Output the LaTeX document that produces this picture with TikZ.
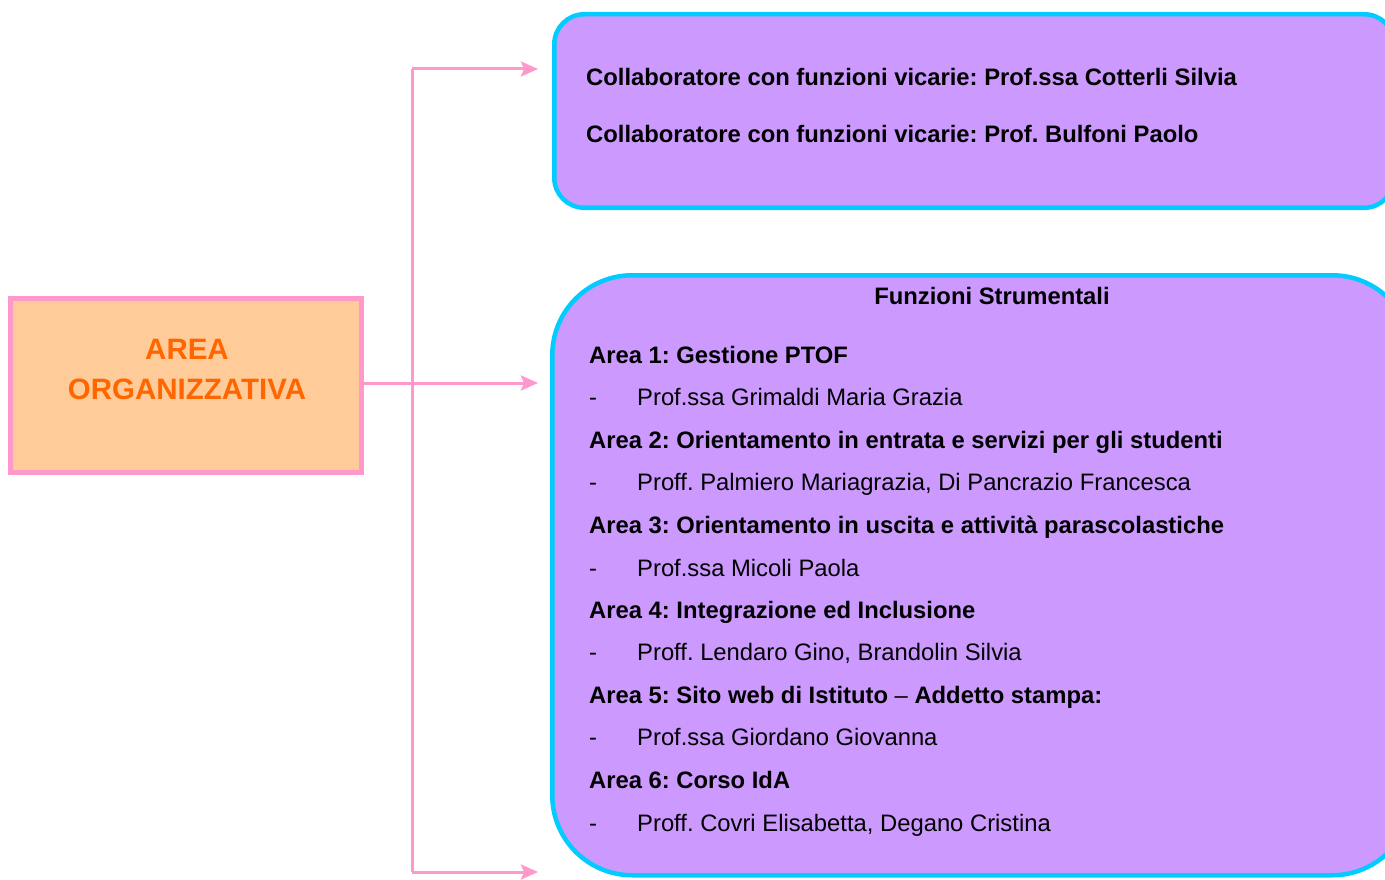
\documentclass[tikz,border=0pt]{standalone}
\usepackage{fontspec}
\setmainfont{Liberation Sans}
\usetikzlibrary{arrows.meta}
\definecolor{pinkline}{HTML}{FF99CC}
\definecolor{peach}{HTML}{FFCC99}
\definecolor{orangetxt}{HTML}{FF6600}
\definecolor{lilac}{HTML}{CC99FF}
\definecolor{cyanb}{HTML}{00CCFF}
\tikzset{
  conn/.style={draw=pinkline, line width=3pt},
  arr/.style={conn, -{Stealth[length=17pt,width=15pt,inset=3pt]}},
  purplebox/.style={fill=lilac, draw=cyanb, line width=4.5pt},
  bt/.style={anchor=west, font=\fontsize{23.8}{28}\selectfont\bfseries, inner sep=0pt, text height=17pt, text depth=5pt, yshift=-2pt},
  rt/.style={anchor=west, font=\fontsize{23.8}{28}\selectfont, inner sep=0pt, text height=17pt, text depth=5pt, yshift=-2pt},
}
\begin{document}
\frenchspacing
\begin{tikzpicture}[x=1pt,y=-1pt]
\useasboundingbox (0,0) rectangle (1385,880);
\clip (0,0) rectangle (1385,880);
% left box
\node[draw=pinkline, fill=peach, line width=5pt, minimum width=351pt, minimum height=174pt, inner sep=0pt, anchor=north west] (area) at (8,296) {};
\node[font=\fontsize{29.5}{40}\selectfont\bfseries, text=orangetxt, align=center, inner sep=0pt] (areatxt) at (187,369) {AREA\\ORGANIZZATIVA};
% purple boxes
\node[purplebox, rounded corners=30pt, minimum width=840pt, minimum height=193.5pt, inner sep=0pt, anchor=north west] (vic) at (552,12) {};
\node[purplebox, rounded corners=80pt, minimum width=860pt, minimum height=600pt, inner sep=0pt, anchor=north west] (fs) at (550,273) {};
% connectors
\coordinate (mid) at (412,383);
\coordinate (top) at (412,69);
\coordinate (bot) at (412,872);
\coordinate (e1) at (538,69);
\coordinate (e2) at (538,383);
\coordinate (e3) at (538,872);
\draw[conn] (top) -- (bot);
\draw[arr] (top) -- (e1);
\draw[arr] (area.east |- e2) -- (e2);
\draw[arr] (bot) -- (e3);
% top box text
\node[bt] (v1) at (586,78) {Collaboratore con funzioni vicarie: Prof.ssa Cotterli Silvia};
\node[bt] (v2) at (586,135) {Collaboratore con funzioni vicarie: Prof. Bulfoni Paolo};
% bottom box text
\node[bt, anchor=center] (title) at (992,296) {Funzioni Strumentali};
\node[bt] (a1) at (589,355) {Area 1: Gestione PTOF};
\node[rt] (d1) at (589,397) {-};
\node[rt] (p1) at (637,397) {Prof.ssa Grimaldi Maria Grazia};
\node[bt] (a2) at (589,440) {Area 2: Orientamento in entrata e servizi per gli studenti};
\node[rt] (d2) at (589,482) {-};
\node[rt] (p2) at (637,482) {Proff. Palmiero Mariagrazia, Di Pancrazio Francesca};
\node[bt] (a3) at (589,525) {Area 3: Orientamento in uscita e attività parascolastiche};
\node[rt] (d3) at (589,568) {-};
\node[rt] (p3) at (637,568) {Prof.ssa Micoli Paola};
\node[bt] (a4) at (589,610) {Area 4: Integrazione ed Inclusione};
\node[rt] (d4) at (589,652) {-};
\node[rt] (p4) at (637,652) {Proff. Lendaro Gino, Brandolin Silvia};
\node[bt] (a5) at (589,695) {Area 5: Sito web di Istituto \textmd{–} Addetto stampa:};
\node[rt] (d5) at (589,737) {-};
\node[rt] (p5) at (637,737) {Prof.ssa Giordano Giovanna};
\node[bt] (a6) at (589,780) {Area 6: Corso IdA};
\node[rt] (d6) at (589,823) {-};
\node[rt] (p6) at (637,823) {Proff. Covri Elisabetta, Degano Cristina};
\end{tikzpicture}
\end{document}
